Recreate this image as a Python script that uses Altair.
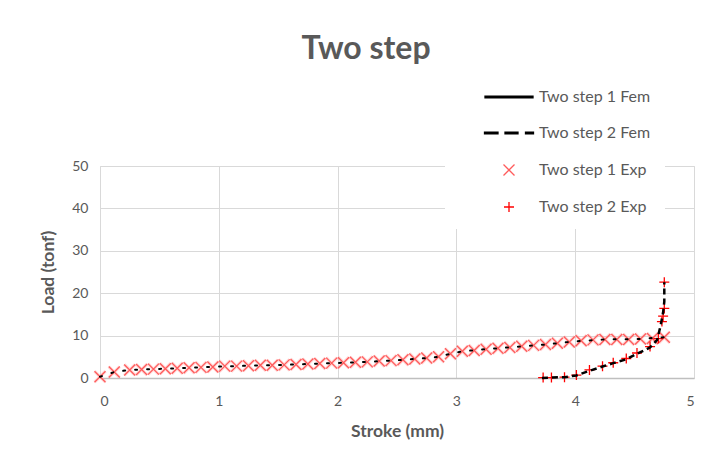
import altair as alt
import pandas as pd

# ---- data ----
series_names = ["Two step 1 Fem", "Two step 2 Fem", "Two step 1 Exp", "Two step 2 Exp"]

exp1_x = [0.0, 0.12, 0.25, 0.35, 0.45, 0.55, 0.65, 0.75, 0.85, 0.95, 1.05, 1.15, 1.25, 1.35,
          1.45, 1.55, 1.65, 1.75, 1.85, 1.95, 2.05, 2.15, 2.25, 2.35, 2.45, 2.55, 2.65, 2.75,
          2.85, 2.95, 3.05, 3.15, 3.25, 3.35, 3.45, 3.55, 3.65, 3.75, 3.85, 3.95, 4.05, 4.15,
          4.25, 4.35, 4.45, 4.55, 4.65, 4.75]
exp1_y = [0.3, 1.4, 1.9, 2.0, 2.1, 2.2, 2.3, 2.4, 2.5, 2.6, 2.8, 2.8, 2.9, 3.0,
          3.0, 3.1, 3.2, 3.3, 3.4, 3.5, 3.6, 3.7, 3.8, 4.0, 4.1, 4.3, 4.5, 4.7,
          5.0, 5.7, 6.3, 6.5, 6.8, 7.0, 7.2, 7.5, 7.7, 7.9, 8.2, 8.5, 8.8, 9.0,
          9.1, 9.1, 9.1, 9.2, 9.3, 9.6]

fem1_x = [0.0, 0.12, 0.25, 0.5, 0.75, 1.0, 1.25, 1.5, 1.75, 2.0, 2.25, 2.5, 2.75, 2.85,
          2.95, 3.05, 3.25, 3.5, 3.75, 4.0, 4.25, 4.5, 4.75]
fem1_y = [0.3, 1.4, 1.9, 2.15, 2.4, 2.7, 2.9, 3.05, 3.3, 3.55, 3.8, 4.2, 4.7, 5.0,
          5.7, 6.3, 6.8, 7.35, 7.9, 8.65, 9.1, 9.15, 9.6]

exp2_x = [3.73, 3.80, 3.91, 4.01, 4.12, 4.23, 4.32, 4.43, 4.52, 4.63, 4.70, 4.73, 4.74, 4.75, 4.75]
exp2_y = [0.1, 0.1, 0.2, 0.7, 1.9, 2.8, 3.6, 4.6, 5.9, 7.4, 9.3, 13.3, 14.6, 16.4, 22.6]

fem2_x = [3.72, 3.80, 3.91, 4.01, 4.12, 4.23, 4.32, 4.43, 4.52, 4.63, 4.69, 4.72, 4.74, 4.75, 4.75]
fem2_y = [0.0, 0.1, 0.2, 0.6, 1.7, 2.7, 3.5, 4.4, 5.7, 7.2, 9.0, 12.5, 15.5, 18.0, 22.6]

x_ticks = [0, 1, 2, 3, 4, 5]
y_ticks = [0, 10, 20, 30, 40, 50]

# ---- tables ----
exp_df = pd.DataFrame({
    "series": [series_names[2]] * len(exp1_x) + [series_names[3]] * len(exp2_x),
    "x": exp1_x + exp2_x,
    "y": exp1_y + exp2_y,
})
exp1_df = pd.DataFrame({"x": exp1_x, "y": exp1_y})
fem1_df = pd.DataFrame({"x": fem1_x, "y": fem1_y, "i": list(range(len(fem1_x)))})
fem2_df = pd.DataFrame({"x": fem2_x, "y": fem2_y, "i": list(range(len(fem2_x)))})

# symbol paths (unit box; scaled by the symbol size)
LINE_PATH = "M-4.8,-0.15H4.8V0.15H-4.8Z"
DASH_PATH = ("M-4.9,-0.15H-2.2V0.15H-4.9Z"
             "M-0.8,-0.15H1.8V0.15H-0.8Z"
             "M3.3,-0.15H4.9V0.15H3.3Z")
X_PATH = "M-1.1,-1.1L1.1,1.1M-1.1,1.1L1.1,-1.1"
PLUS_PATH = "M-1,0H1M0,-1V1"

FONT = "Lato"
TEXT = "#595959"
GRID = "#d9d9d9"

x_scale = alt.Scale(domain=[0, 5], nice=False, zero=False)
y_scale = alt.Scale(domain=[0, 50], nice=False)

x_axis = alt.Axis(values=x_ticks, title="Stroke (mm)", grid=True, gridColor=GRID,
                  domain=True, domainColor="#bfbfbf", domainWidth=1.5, ticks=False,
                  labelPadding=16, labelFontSize=14, labelFont=FONT, labelColor=TEXT,
                  titleFont=FONT, titleFontSize=17.5, titleFontWeight="bold",
                  titleColor=TEXT, titlePadding=14)
y_axis = alt.Axis(values=y_ticks, title="Load (tonf)", grid=True, gridColor=GRID,
                  domain=False, ticks=False, labelPadding=12, labelFontSize=14,
                  labelFont=FONT, labelColor=TEXT, titleFont=FONT, titleFontSize=17.5,
                  titleFontWeight="bold", titleColor=TEXT, titlePadding=14)

legend = alt.Legend(orient="none", legendX=345, legendY=-91, title=None,
                    fillColor="white", padding=14, symbolOffset=42, labelOffset=22,
                    symbolSize=100, symbolStrokeWidth=1.3, symbolOpacity=1,
                    labelFontSize=16, labelFont=FONT, labelColor=TEXT, rowPadding=20)

color_scale = alt.Scale(domain=series_names,
                        range=["#000000", "#000000", "#ff5b5b", "#ff0000"])
shape_scale = alt.Scale(domain=series_names,
                        range=[LINE_PATH, DASH_PATH, X_PATH, PLUS_PATH])

halo = alt.Chart(exp1_df).mark_point(
    filled=False, size=100, shape=X_PATH, color="#ff9a9a", strokeWidth=3.2, opacity=0.35
).encode(
    x=alt.X("x:Q", scale=x_scale, axis=x_axis),
    y=alt.Y("y:Q", scale=y_scale, axis=y_axis),
)

points = alt.Chart(exp_df).mark_point(filled=False, size=100, strokeWidth=1.3, opacity=1).encode(
    x=alt.X("x:Q", scale=x_scale, axis=x_axis),
    y=alt.Y("y:Q", scale=y_scale, axis=y_axis),
    color=alt.Color("series:N", scale=color_scale, legend=legend),
    shape=alt.Shape("series:N", scale=shape_scale, legend=legend),
)

fem1 = alt.Chart(fem1_df).mark_line(
    color="#000000", strokeWidth=2, strokeDash=[2, 10], strokeCap="round"
).encode(
    x=alt.X("x:Q", scale=x_scale, axis=x_axis),
    y=alt.Y("y:Q", scale=y_scale, axis=y_axis),
    order="i:Q",
)

fem2 = alt.Chart(fem2_df).mark_line(
    color="#000000", strokeWidth=2.5, strokeDash=[6, 4]
).encode(
    x=alt.X("x:Q", scale=x_scale, axis=x_axis),
    y=alt.Y("y:Q", scale=y_scale, axis=y_axis),
    order="i:Q",
)

chart = alt.layer(halo, points, fem1, fem2).properties(
    width=594,
    height=212,
    autosize=alt.AutoSizeParams(type="none"),
    padding={"left": 100, "top": 166, "right": 16, "bottom": 83},
    title=alt.TitleParams("Two step", font=FONT, fontSize=32, fontWeight="bold",
                          color=TEXT, anchor="middle", frame="group",
                          baseline="alphabetic", offset=17, dx=-31, dy=33),
).configure_view(stroke=None).configure(background="white")

chart.save("out.html", embed_options={"renderer": "svg", "actions": False})
